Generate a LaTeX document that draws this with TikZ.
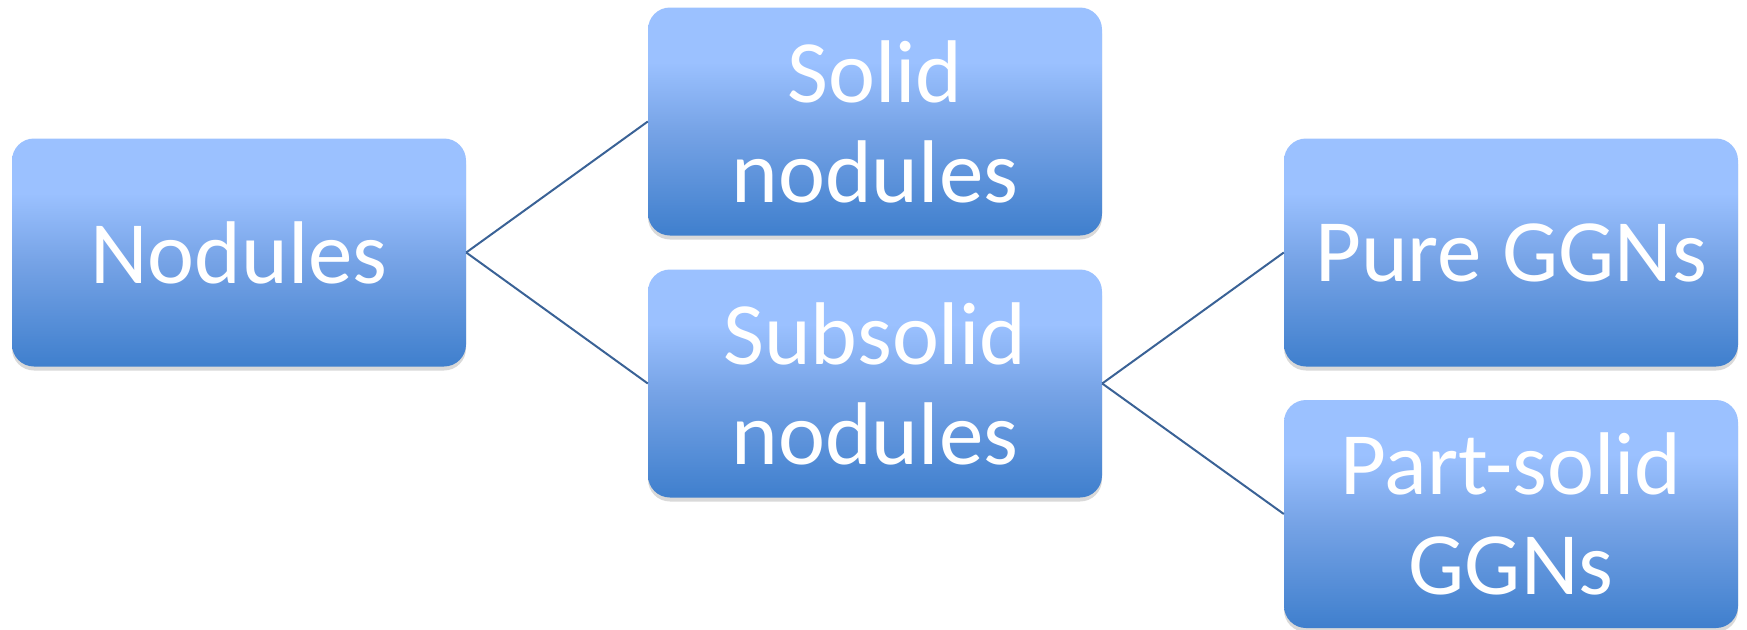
\documentclass[tikz,border=0pt]{standalone}
\usepackage{fontspec}
\setmainfont{Carlito}
\usetikzlibrary{shadows}
\definecolor{boxtop}{RGB}{155,193,255}
\definecolor{boxmid}{RGB}{118,163,230}
\definecolor{boxbot}{RGB}{63,127,205}
\definecolor{linkcol}{RGB}{58,98,150}
\pgfdeclareverticalshading{boxshade}{100bp}{color(0bp)=(boxbot); color(25bp)=(boxbot); color(48bp)=(boxmid); color(63bp)=(boxtop); color(100bp)=(boxtop)}
\tikzset{
  box/.style={rectangle, rounded corners=22pt, minimum width=454pt, minimum height=228pt,
    inner sep=0pt, shading=boxshade,
    text=white, align=center, font=\fontsize{89}{100}\selectfont,
    drop shadow={opacity=0.3, shadow xshift=0pt, shadow yshift=-4pt}},
  link/.style={draw=linkcol, line width=2pt}
}
\begin{document}
\begin{tikzpicture}[x=1pt,y=-1pt]
\useasboundingbox (0,0) rectangle (1747,629);
\node[box] (nod) at (239,252.5) {Nodules};
\node[box] (sol) at (875,121.5) {Solid\\nodules};
\node[box] (sub) at (875,383.5) {Subsolid\\nodules};
\node[box] (pure) at (1511,252.5) {Pure GGNs};
\node[box] (part) at (1511,514) {Part-solid\\GGNs};
\draw[link] (nod.east) -- (sol.west);
\draw[link] (nod.east) -- (sub.west);
\draw[link] (sub.east) -- (pure.west);
\draw[link] (sub.east) -- (part.west);
\end{tikzpicture}
\end{document}
